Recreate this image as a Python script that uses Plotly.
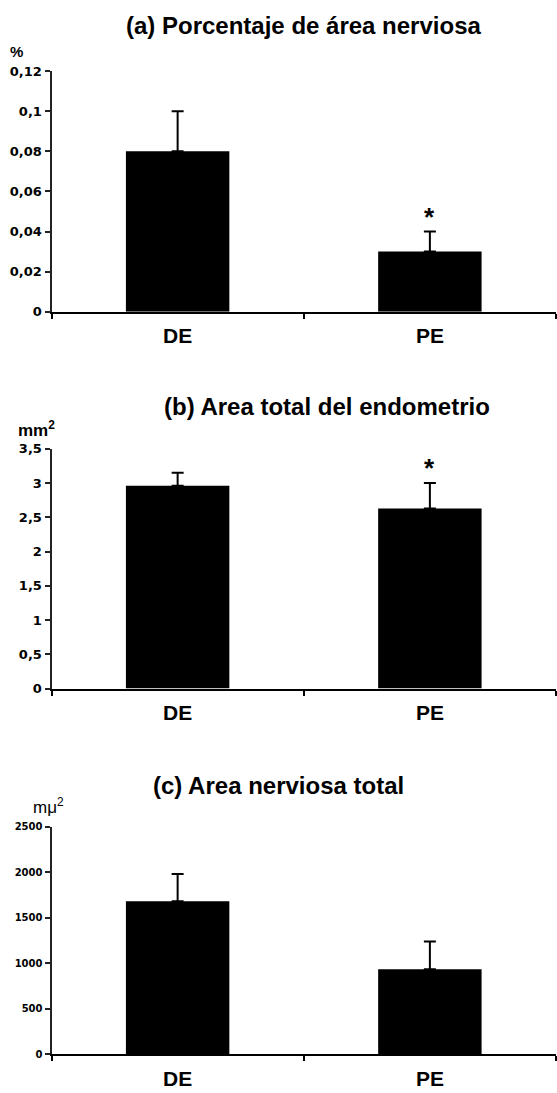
import plotly.graph_objects as go

# Groups compared in every panel
categories = ["DE", "PE"]

# (a) Porcentaje de área nerviosa
pct_mean = [0.08, 0.03]
pct_err = [0.02, 0.01]
pct_ticks = [0, 0.02, 0.04, 0.06, 0.08, 0.10, 0.12]
pct_ticktext = ["0", "0,02", "0,04", "0,06", "0,08", "0,1", "0,12"]

# (b) Area total del endometrio
endo_mean = [2.96, 2.63]
endo_err = [0.19, 0.37]
endo_ticks = [0, 0.5, 1, 1.5, 2, 2.5, 3, 3.5]
endo_ticktext = ["0", "0,5", "1", "1,5", "2", "2,5", "3", "3,5"]

# (c) Area nerviosa total
nerve_mean = [1680, 935]
nerve_err = [300, 305]
nerve_ticks = [0, 500, 1000, 1500, 2000, 2500]
nerve_ticktext = ["0", "500", "1000", "1500", "2000", "2500"]

# groups flagged as significantly different in each panel
signif = [[False, True], [False, True], [False, False]]

W, H = 557, 1093
TITLE_FONT = "Liberation Sans, Arial, sans-serif"
TICK_FONT = "DejaVu Sans, sans-serif"


def py(px):
    """pixel row -> paper coordinate"""
    return 1 - px / H


panels = [
    dict(mean=pct_mean, err=pct_err, ticks=pct_ticks, ticktext=pct_ticktext,
         top=65, bottom=309, ymax=0.12, tick_size=13,
         title="(a) Porcentaje de área nerviosa", title_x=303, title_y=19,
         unit="%", unit_x=16, unit_y=45, unit_bold=True, unit_size=15),
    dict(mean=endo_mean, err=endo_err, ticks=endo_ticks, ticktext=endo_ticktext,
         top=448, bottom=691, ymax=3.5, tick_size=13,
         title="(b) Area total del endometrio", title_x=327, title_y=405,
         unit="mm<sup>2</sup>", unit_x=36, unit_y=428, unit_bold=True,
         unit_size=17),
    dict(mean=nerve_mean, err=nerve_err, ticks=nerve_ticks, ticktext=nerve_ticktext,
         top=831, bottom=1062, ymax=2500, tick_size=10,
         title="(c) Area nerviosa total", title_x=278, title_y=789,
         unit="mμ<sup>2</sup>", unit_x=48, unit_y=810, unit_bold=False,
         unit_size=17),
]

x_left, x_right = 51.5 / W, 556 / W

fig = go.Figure()
annotations = []
layout = {}

for i, p in enumerate(panels, start=1):
    xa = "x" if i == 1 else f"x{i}"
    ya = "y" if i == 1 else f"y{i}"
    fig.add_trace(go.Bar(
        x=categories, y=p["mean"], xaxis=xa, yaxis=ya,
        marker=dict(color="black", line=dict(width=0)),
        error_y=dict(type="data", array=p["err"], arrayminus=[0, 0],
                     symmetric=False, color="black", thickness=2, width=6),
        showlegend=False, hoverinfo="skip",
    ))

    layout[f"xaxis{'' if i == 1 else i}"] = dict(
        domain=[x_left, x_right], anchor=ya,
        showline=True, linecolor="black", linewidth=2,
        ticks="outside", tickson="boundaries", ticklen=5, tickwidth=1.5,
        tickcolor="black", showgrid=False, zeroline=False,
        tickfont=dict(family=TITLE_FONT, size=21, color="black", weight="bold"),
        ticklabelstandoff=4,
    )
    layout[f"yaxis{'' if i == 1 else i}"] = dict(
        domain=[py(p["bottom"]), py(p["top"])], anchor=xa,
        range=[0, p["ymax"]], tickvals=p["ticks"], ticktext=p["ticktext"],
        showline=True, linecolor="#222", linewidth=2,
        ticks="outside", ticklen=5, tickwidth=1.5, tickcolor="#222",
        showgrid=False, zeroline=False,
        tickfont=dict(family=TICK_FONT, size=p["tick_size"], color="black",
                      weight="bold"),
    )

    annotations.append(dict(
        text=p["title"], x=p["title_x"] / W, y=py(p["title_y"]),
        xref="paper", yref="paper",
        xanchor="center", yanchor="middle", showarrow=False,
        font=dict(family=TITLE_FONT, size=24, color="black", weight="bold"),
    ))
    annotations.append(dict(
        text=p["unit"], x=p["unit_x"] / W, y=py(p["unit_y"]),
        xref="paper", yref="paper", xanchor="center", yanchor="middle",
        showarrow=False,
        font=dict(family=TITLE_FONT, size=p["unit_size"], color="black",
                  weight="bold" if p["unit_bold"] else "normal"),
    ))
    for cat, m, e, s in zip(categories, p["mean"], p["err"], signif[i - 1]):
        if s:
            annotations.append(dict(
                text="*", x=cat, y=m + e, xref=xa, yref=ya,
                xanchor="center", yanchor="bottom", yshift=-2, showarrow=False,
                font=dict(family=TITLE_FONT, size=26, color="black",
                          weight="bold"),
            ))

fig.update_layout(
    width=W, height=H, margin=dict(l=0, r=0, t=0, b=0),
    paper_bgcolor="white", plot_bgcolor="white",
    bargap=0.59, annotations=annotations, **layout,
)

fig.write_html("out.html")
